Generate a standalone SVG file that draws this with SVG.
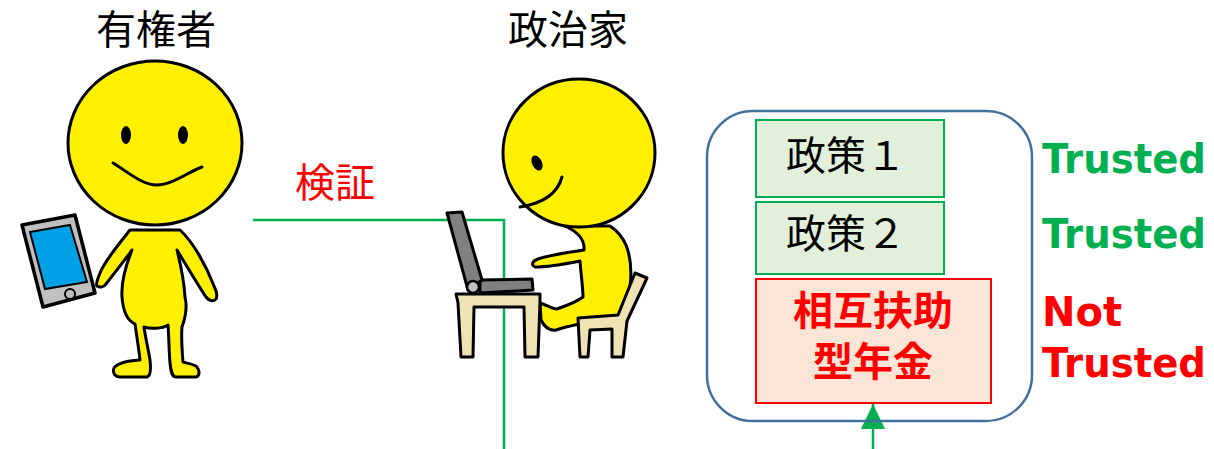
<svg xmlns="http://www.w3.org/2000/svg" width="1214" height="449" viewBox="0 0 1214 449">
  <style>
    .jp { font-family: "Noto Sans CJK JP", "Noto Sans CJK SC", sans-serif; }
    .title { font-size: 40px; fill: #000; text-anchor: middle; }
    .skin { fill: #fff000; stroke: #000; stroke-width: 3; stroke-linejoin: round; }
    .ink { fill: none; stroke: #000; stroke-width: 3; stroke-linecap: round; }
    .wood { fill: #efe2b3; stroke: #000; stroke-width: 3; stroke-linejoin: round; }
    .metal { fill: #808080; stroke: #000; stroke-width: 3; stroke-linejoin: round; }
    .policy { fill: #e2efda; stroke: #00b050; stroke-width: 2; }
    .policy-text { font-size: 40px; fill: #000; text-anchor: middle; }
    .risk { fill: #fbe5d6; stroke: #ff0000; stroke-width: 2; }
    .risk-text { font-size: 40px; font-weight: bold; fill: #ff0000; text-anchor: middle; }
    .verdict { font-family: "DejaVu Sans", Verdana, sans-serif; font-weight: bold; font-size: 40px; }
    .ok { fill: #00b050; }
    .ng { fill: #ff0000; }
    .link { fill: none; stroke: #00b050; stroke-width: 2.5; }
  </style>
  <defs>
    <marker id="arrow" viewBox="0 0 25 24" refX="25" refY="12" markerWidth="25" markerHeight="24" markerUnits="userSpaceOnUse" orient="auto">
      <path d="M0,0 L25,12 L0,24 Z" fill="#00b050"/>
    </marker>
  </defs>

  <rect width="1214" height="449" fill="#ffffff"/>

  <!-- connectors: voter check line and policy arrow -->
  <g id="connectors">
    <polyline class="link" points="253,220 504,220 504,449"/>
    <line class="link" x1="873" y1="449" x2="873" y2="404" marker-end="url(#arrow)"/>
    <text class="jp" x="335" y="197" font-size="40" fill="#ff0000" text-anchor="middle">検証</text>
  </g>

  <!-- voter holding a tablet -->
  <g id="voter">
    <text class="jp title" x="156" y="44">有権者</text>
    <polygon points="22,225 75,215 95,293 43,307" fill="#c0c0c0" stroke="#000" stroke-width="3.5" stroke-linejoin="round"/>
    <polygon points="30,232 70,225 87,282 45,289" fill="#00a0e6" stroke="#000" stroke-width="2"/>
    <circle cx="70" cy="294" r="5" fill="#c0c0c0" stroke="#000" stroke-width="2"/>
    <path class="skin" d="M130,230 C118,245 104,262 100,273 C97,280 96,285 97,286 C100,288 104,287 106,284 C115,272 125,260 132,250 C126,265 121,283 122,297 C123,310 126,320 135,324 C137,338 139,350 140,360 C130,361 118,362 114,368 C112,374 116,377 120,377 L147,377 C151,376 151,369 150,360 C148,348 145,335 144,327 C150,329 162,329 168,325 C169,338 169,352 170,363 C171,372 172,377 176,377 L196,377 C200,376 200,370 196,366 C190,363 185,363 183,362 C182,350 181,338 182,327 C186,316 187,305 185,297 C184,280 180,262 177,250 C186,265 198,285 206,297 C209,301 214,302 216,299 C218,295 216,290 214,286 C206,265 193,242 180,230 Z"/>
    <ellipse class="skin" cx="155" cy="143" rx="87" ry="82"/>
    <ellipse cx="126" cy="135" rx="5" ry="9" fill="#000"/>
    <ellipse cx="183" cy="135" rx="5" ry="9" fill="#000"/>
    <path class="ink" d="M113,163 C128,172 142,185 157,185 C172,185 188,172 202,167"/>
  </g>

  <!-- politician working at a laptop -->
  <g id="politician">
    <text class="jp title" x="568" y="44">政治家</text>
    <path class="skin" d="M565,226 C578,232 585,240 584,250 C570,252 550,255 538,259 C532,261 531,265 535,267 C548,267 565,264 580,261 C581,275 583,288 583,297 C575,303 565,306 557,309 C552,309 547,305 540,303 L541,320 C545,328 550,331 556,330 C570,325 590,322 610,320 C620,317 628,305 630,287 C632,270 630,255 626,245 C622,236 616,230 610,226 Z"/>
    <ellipse class="skin" cx="579" cy="153" rx="76" ry="74"/>
    <ellipse cx="537" cy="163" rx="5" ry="8" fill="#000" transform="rotate(-25 537 163)"/>
    <path class="ink" d="M562,177 C558,192 545,203 520,207"/>
    <path class="wood" d="M578,318 L618,315 L635,273 L647,278 L627,321 L623,357 L612,357 L612,329 L590,330 L588,357 L580,357 Z"/>
    <path class="wood" d="M456,294 L540,294 L540,302 L538,357 L525,357 L524,307 L474,307 L473,357 L461,357 L458,303 Z"/>
    <polygon class="metal" points="480,280 532,279 533,290 480,293"/>
    <polygon class="metal" points="447,213 462,212 482,280 468,290"/>
    <circle cx="473" cy="287" r="6" fill="#c0c0c0" stroke="#000" stroke-width="2.5"/>
  </g>

  <!-- policy bundle -->
  <g id="policies">
    <rect x="707" y="111" width="325" height="310" rx="46" ry="46" fill="none" stroke="#41719c" stroke-width="2.5"/>
  </g>
  <g id="policy-1">
    <rect class="policy" x="756" y="120" width="188" height="77"/>
    <text class="jp policy-text" x="846" y="170">政策１</text>
    <text class="verdict ok" x="1042" y="173" textLength="164" lengthAdjust="spacingAndGlyphs">Trusted</text>
  </g>
  <g id="policy-2">
    <rect class="policy" x="756" y="202" width="188" height="72"/>
    <text class="jp policy-text" x="846" y="248">政策２</text>
    <text class="verdict ok" x="1042" y="248" textLength="164" lengthAdjust="spacingAndGlyphs">Trusted</text>
  </g>
  <g id="policy-3">
    <rect class="risk" x="756" y="279" width="235" height="124"/>
    <text class="jp risk-text"><tspan x="873" y="325">相互扶助</tspan><tspan x="873" y="376">型年金</tspan></text>
    <text class="verdict ng"><tspan x="1042" y="326">Not</tspan><tspan x="1042" y="377" textLength="164" lengthAdjust="spacingAndGlyphs">Trusted</tspan></text>
  </g>
</svg>
